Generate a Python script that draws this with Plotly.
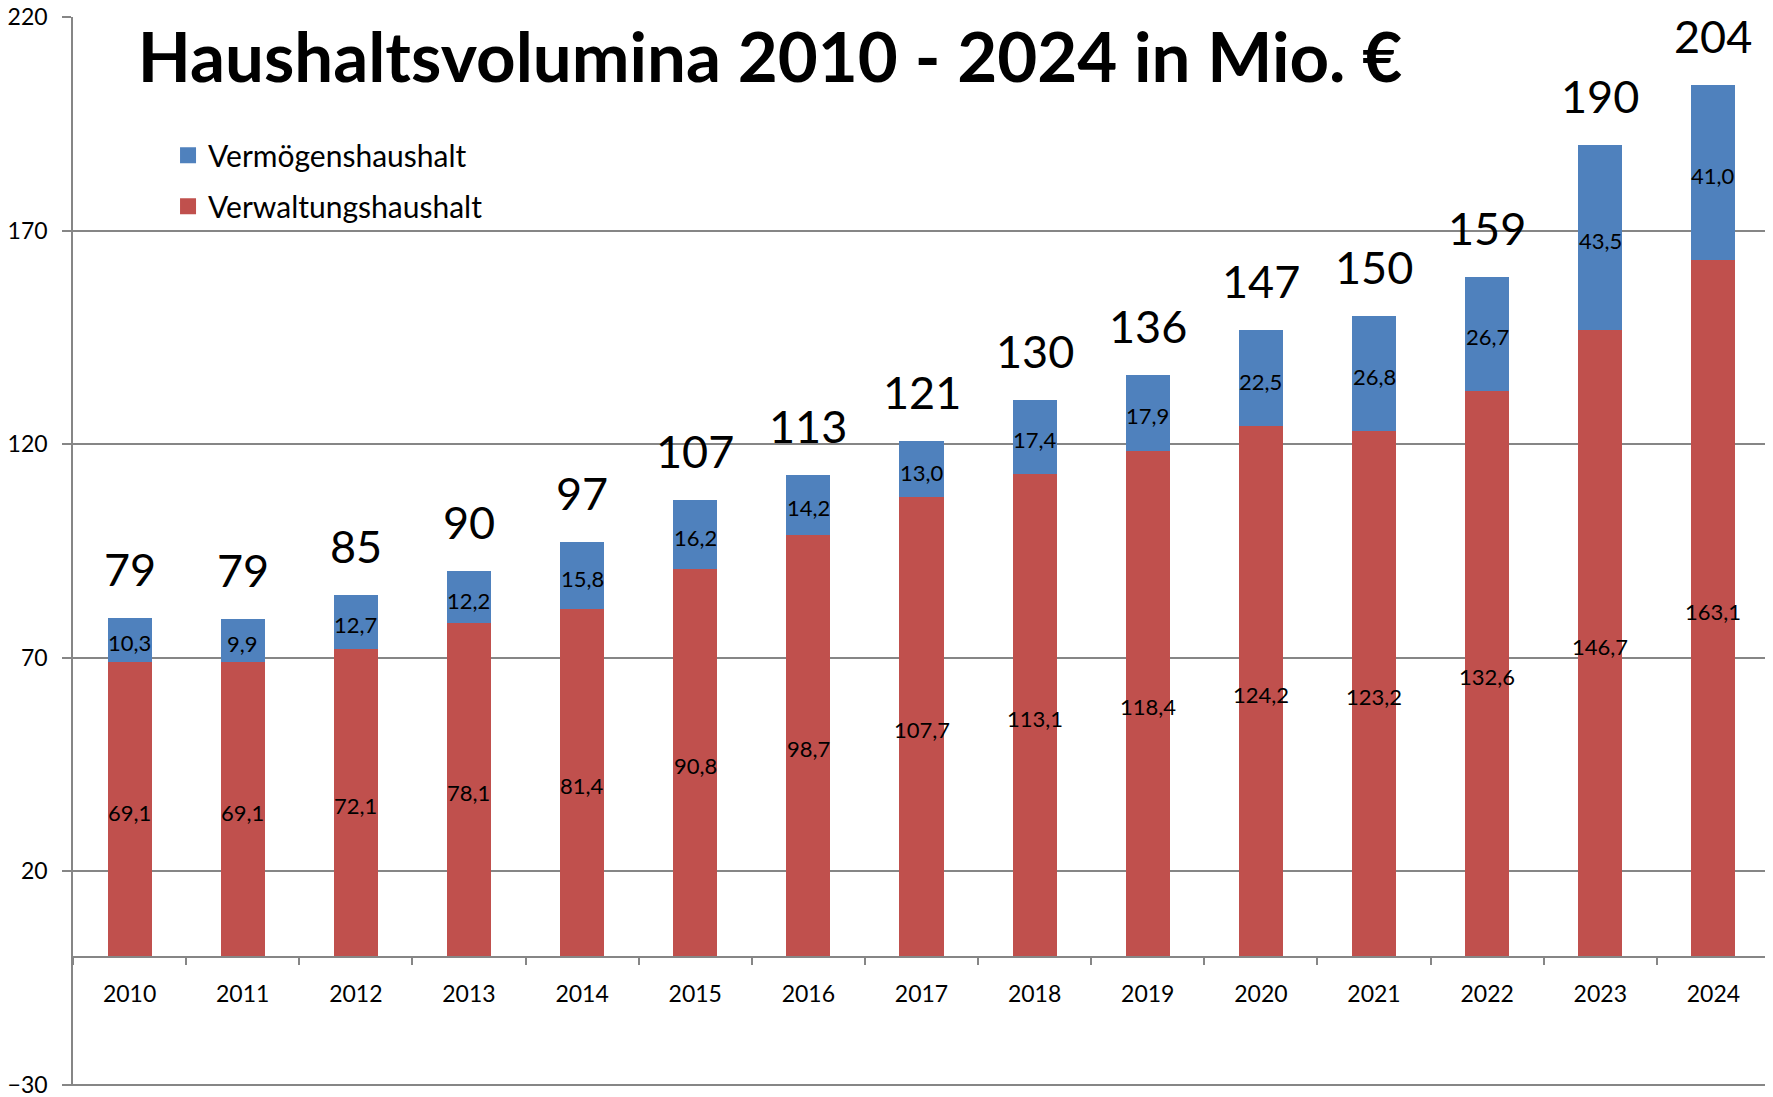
import plotly.graph_objects as go

years = ["2010", "2011", "2012", "2013", "2014", "2015", "2016", "2017",
         "2018", "2019", "2020", "2021", "2022", "2023", "2024"]
verwaltung = [69.1, 69.1, 72.1, 78.1, 81.4, 90.8, 98.7, 107.7,
              113.1, 118.4, 124.2, 123.2, 132.6, 146.7, 163.1]
vermoegen = [10.3, 9.9, 12.7, 12.2, 15.8, 16.2, 14.2, 13.0,
             17.4, 17.9, 22.5, 26.8, 26.7, 43.5, 41.0]
totals = [79, 79, 85, 90, 97, 107, 113, 121, 130, 136, 147, 150, 159, 190, 204]

y_ticks = [-30, 20, 70, 120, 170, 220]

RED = "#C0504D"
BLUE = "#4F81BD"
GRID = "#868686"
FONT = "Lato"

W, H = 1765, 1089  # page body has an 8px default margin


def fmt(v):
    return f"{v:.1f}".replace(".", ",")


fig = go.Figure()
fig.add_trace(go.Bar(x=years, y=verwaltung, name="Verwaltungshaushalt",
                     marker=dict(color=RED, line=dict(width=0)),
                     showlegend=False, hoverinfo="skip"))
fig.add_trace(go.Bar(x=years, y=vermoegen, name="Vermögenshaushalt",
                     marker=dict(color=BLUE, line=dict(width=0)),
                     showlegend=False, hoverinfo="skip"))

# legend entries with larger square swatches
fig.add_trace(go.Scatter(x=[None], y=[None], mode="markers", name="Vermögenshaushalt",
                         marker=dict(symbol="square", size=18, color=BLUE),
                         legendgroup="b", legendrank=1, hoverinfo="skip"))
fig.add_trace(go.Scatter(x=[None], y=[None], mode="markers", name="Verwaltungshaushalt",
                         marker=dict(symbol="square", size=18, color=RED),
                         legendgroup="a", legendrank=2, hoverinfo="skip"))

# segment labels (centred in each segment)
mid_red = [v / 2 for v in verwaltung]
mid_blue = [r + b / 2 for r, b in zip(verwaltung, vermoegen)]
for i, (yr, yb, vr, vb) in enumerate(zip(mid_red, mid_blue, verwaltung, vermoegen)):
    fig.add_annotation(x=i, y=yr, xref="x", yref="y", text=fmt(vr),
                       showarrow=False, yanchor="middle", yshift=-3,
                       font=dict(family=FONT, size=22, color="black"))
    fig.add_annotation(x=i, y=yb, xref="x", yref="y", text=fmt(vb),
                       showarrow=False, yanchor="middle", yshift=-3,
                       font=dict(family=FONT, size=22, color="black"))

# totals above bars (x given as category index)
stack_tops = [r + b for r, b in zip(verwaltung, vermoegen)]
for i, (top, tot) in enumerate(zip(stack_tops, totals)):
    fig.add_annotation(x=i, y=top, xref="x", yref="y", text=str(tot),
                       showarrow=False, yanchor="middle", yshift=49,
                       font=dict(family=FONT, size=45, color="black"))

y_lo, y_hi = y_ticks[0] - 0.3, y_ticks[-1] + 0.1

fig.update_layout(
    width=W, height=H,
    margin=dict(l=65, r=3, t=9, b=11, autoexpand=False),
    paper_bgcolor="white", plot_bgcolor="white",
    barmode="stack", bargap=0.61,
    separators=",.",
    font=dict(family=FONT, color="black"),
    title=dict(text="<b>Haushaltsvolumina 2010 - 2024 in Mio. €</b>",
               x=762 / W, y=1 - 50 / H, xanchor="center", yanchor="middle",
               xref="container", yref="container",
               font=dict(family=FONT, size=69, color="black")),
    legend=dict(x=0.056, y=0.895, xanchor="left", yanchor="top",
                traceorder="grouped", tracegroupgap=9,
                font=dict(family=FONT, size=30, color="black"),
                bgcolor="rgba(0,0,0,0)"),
    xaxis=dict(type="category", anchor="free", position=(0 - y_lo) / (y_hi - y_lo),
               showline=True, linecolor=GRID, linewidth=1.5,
               ticks="outside", tickson="boundaries", ticklen=8,
               tickcolor=GRID, tickwidth=1.5,
               tickfont=dict(family=FONT, size=23, color="black"),
               ticklabelstandoff=17,
               showgrid=False, zeroline=False,
               range=[-0.5, len(years) - 0.5]),
    yaxis=dict(range=[y_lo, y_hi], tickvals=y_ticks,
               showline=True, linecolor=GRID, linewidth=1.5,
               ticks="outside", ticklen=9, tickcolor=GRID, tickwidth=1.5,
               showgrid=True, gridcolor=GRID, gridwidth=1.5,
               zeroline=False, ticklabeloverflow="allow",
               tickfont=dict(family=FONT, size=23, color="black"),
               ticklabelstandoff=10),
)

fig.write_html("out.html")
